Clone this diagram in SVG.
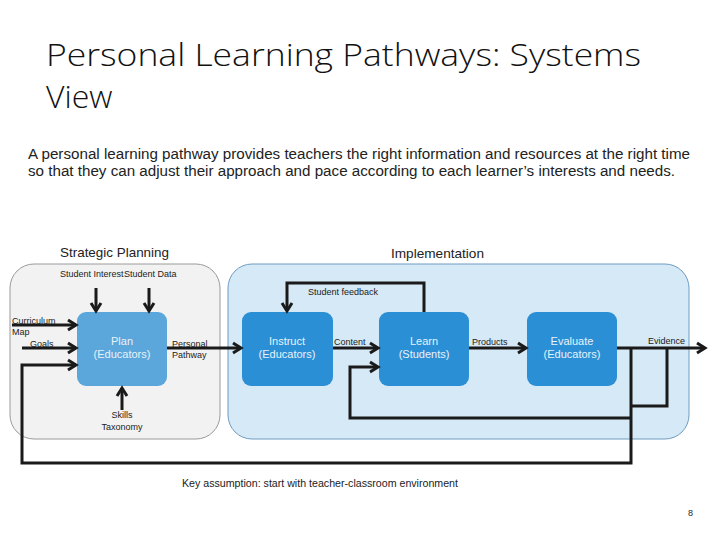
<svg xmlns="http://www.w3.org/2000/svg" width="720" height="540" viewBox="0 0 720 540">
<style>
.title{font-family:"Open Sans","Liberation Sans",sans-serif;font-size:32px;fill:#111;font-weight:300}
.sub{font-family:"Liberation Sans",Arial,sans-serif;font-size:14px;fill:#222}
.head{font-family:"Liberation Sans",Arial,sans-serif;font-size:13.5px;fill:#222}
.lbl{font-family:"Liberation Sans",Arial,sans-serif;font-size:9px;fill:#222}
.box{font-family:"Liberation Sans",Arial,sans-serif;font-size:11px;fill:#e8f2fa;text-anchor:middle}
.con{fill:none;stroke:#1a1a1a;stroke-width:3}
.node{stroke:none}
</style>
<defs>
<marker id="ah" markerUnits="userSpaceOnUse" markerWidth="14" markerHeight="14" viewBox="0 0 14 14" refX="11" refY="7" orient="auto">
<path d="M3,2 L11,7 L3,12" fill="none" stroke="#1a1a1a" stroke-width="3"/>
</marker>
</defs>
<rect width="720" height="540" fill="#ffffff"/>
<text class="title" x="46" y="66" textLength="595" lengthAdjust="spacingAndGlyphs">Personal Learning Pathways: Systems</text>
<text class="title" x="46" y="108">View</text>
<text class="sub" x="28" y="159" textLength="662" lengthAdjust="spacingAndGlyphs">A personal learning pathway provides teachers the right information and resources at the right time</text>
<text class="sub" x="28" y="176" textLength="647" lengthAdjust="spacingAndGlyphs">so that they can adjust their approach and pace according to each learner’s interests and needs.</text>
<g id="strategic">
<rect x="10" y="264" width="210" height="175" rx="24" fill="#f2f2f2" stroke="#9a9a9a" stroke-width="1"/>
<text class="head" x="60" y="257" textLength="109" lengthAdjust="spacingAndGlyphs">Strategic Planning</text>
</g>
<g id="implementation">
<rect x="228" y="264" width="461" height="175" rx="24" fill="#d6e9f6" stroke="#6f9cc2" stroke-width="1"/>
<text class="head" x="391" y="258" textLength="93" lengthAdjust="spacingAndGlyphs">Implementation</text>
</g>
<g id="plan">
<rect class="node" x="77" y="312" width="90" height="74" rx="9" fill="#5ba6da"/>
<text class="box" x="122" y="345">Plan</text>
<text class="box" x="122" y="358">(Educators)</text>
</g>
<g id="instruct">
<rect class="node" x="242" y="312" width="91" height="74" rx="9" fill="#2b8fd5"/>
<text class="box" x="287" y="345">Instruct</text>
<text class="box" x="287" y="358">(Educators)</text>
</g>
<g id="learn">
<rect class="node" x="379" y="312" width="90" height="74" rx="9" fill="#2b8fd5"/>
<text class="box" x="424" y="345">Learn</text>
<text class="box" x="424" y="358">(Students)</text>
</g>
<g id="evaluate">
<rect class="node" x="527" y="312" width="90" height="74" rx="9" fill="#2b8fd5"/>
<text class="box" x="572" y="345">Evaluate</text>
<text class="box" x="572" y="358">(Educators)</text>
</g>
<g id="connectors">
<path class="con" d="M96,288 V311" marker-end="url(#ah)"/>
<path class="con" d="M149,288 V311" marker-end="url(#ah)"/>
<path class="con" d="M12,325 H76" marker-end="url(#ah)"/>
<path class="con" d="M22,348 H76" marker-end="url(#ah)"/>
<path class="con" d="M631,348 V463 H22 V365 H76" marker-end="url(#ah)"/>
<path class="con" d="M122,410 V388" marker-end="url(#ah)"/>
<path class="con" d="M167,348 H241" marker-end="url(#ah)"/>
<path class="con" d="M333,348 H378" marker-end="url(#ah)"/>
<path class="con" d="M424,312 V283 H287 V311" marker-end="url(#ah)"/>
<path class="con" d="M469,348 H526" marker-end="url(#ah)"/>
<path class="con" d="M617,348 H705" marker-end="url(#ah)"/>
<path class="con" d="M667,348 V406 H631"/>
<path class="con" d="M631,418 H350 V367 H378" marker-end="url(#ah)"/>
</g>
<g id="labels">
<text class="lbl" x="60" y="277">Student Interest</text>
<text class="lbl" x="124" y="277">Student Data</text>
<text class="lbl" x="12" y="324">Curriculum</text>
<text class="lbl" x="12" y="335">Map</text>
<text class="lbl" x="30" y="347">Goals</text>
<text class="lbl" x="172" y="347">Personal</text>
<text class="lbl" x="172" y="358">Pathway</text>
<text class="lbl" x="122" y="418" text-anchor="middle">Skills</text>
<text class="lbl" x="122" y="430" text-anchor="middle">Taxonomy</text>
<text class="lbl" x="308" y="295">Student feedback</text>
<text class="lbl" x="334" y="345">Content</text>
<text class="lbl" x="472" y="345">Products</text>
<text class="lbl" x="648" y="344">Evidence</text>
<text class="lbl" x="182" y="487" style="font-size:10px" textLength="276" lengthAdjust="spacingAndGlyphs">Key assumption: start with teacher-classroom environment</text>
<text class="lbl" x="688" y="516" fill="#555">8</text>
</g>
</svg>
